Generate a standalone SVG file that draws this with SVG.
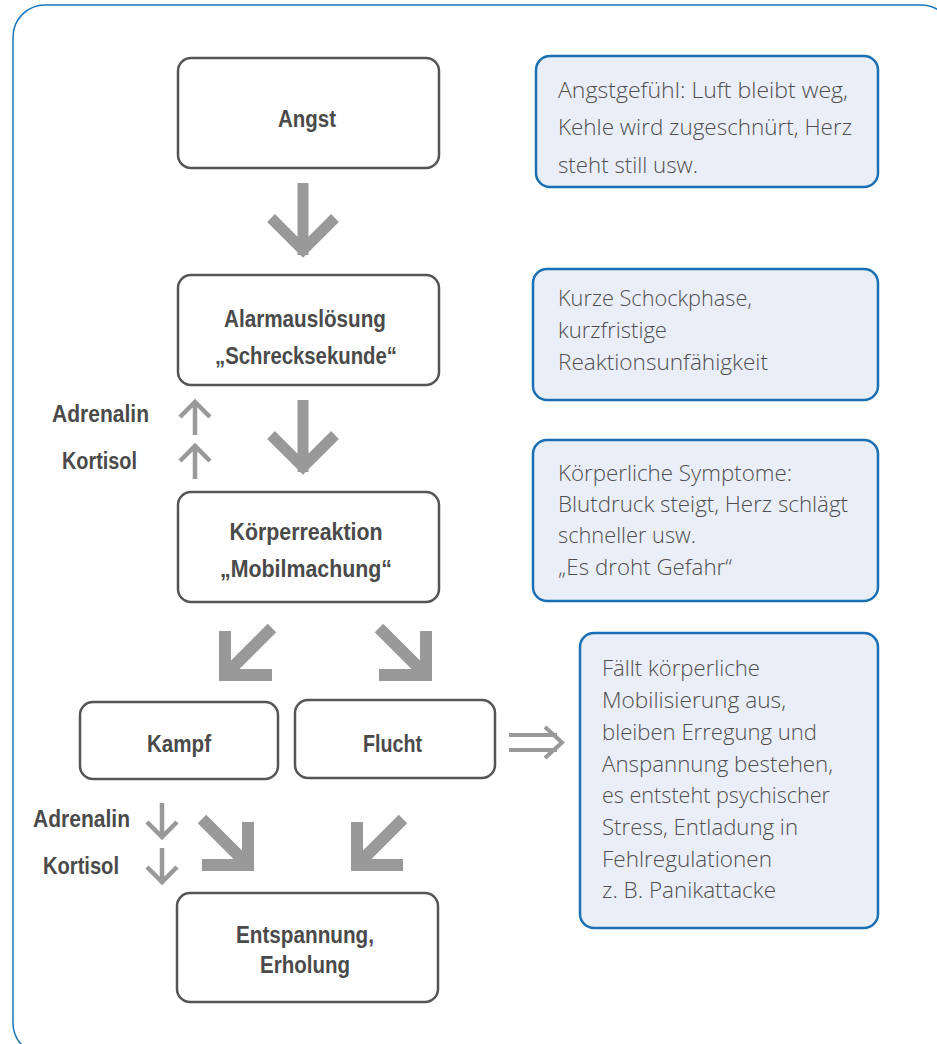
<svg xmlns="http://www.w3.org/2000/svg" width="937" height="1044" viewBox="0 0 937 1044">
<style>
.frame{fill:#ffffff;stroke:#1b75bc;stroke-width:1.5}
.node{fill:#ffffff;stroke:#555555;stroke-width:2.5}
.note{fill:#eaeef9;stroke:#1a6fb5;stroke-width:2.5}
.b{font-family:"Liberation Sans",Arial,sans-serif;font-weight:bold;font-size:23px;fill:#4a4a4a}
.t{font-family:"Open Sans","Liberation Sans",sans-serif;font-weight:300;font-size:22px;fill:#4f4f4f}
.big{fill:none;stroke:#999999;stroke-width:11;stroke-linejoin:miter;stroke-linecap:butt}
.diag{fill:none;stroke:#999999;stroke-width:12;stroke-linejoin:miter;stroke-linecap:butt}
.small{fill:none;stroke:#999999;stroke-width:4.5;stroke-linejoin:miter;stroke-linecap:butt}
.dbl{fill:none;stroke:#999999;stroke-width:4;stroke-linecap:butt}
</style>
<rect class="frame" x="13" y="5" width="940" height="1050" rx="32"/>

<g id="connectors">
  <path class="big" d="M303,183 V255 M271,218 L303,250 L335,218"/>
  <path class="big" d="M303,400 V472 M271,435 L303,467 L335,435"/>
  <path class="diag" d="M272,628 L225,675 M225,631 V675 H272"/>
  <path class="diag" d="M379,628 L426,675 M426,631 V675 H379"/>
  <path class="diag" d="M202,819 L248,865 M248,822 V865 H202"/>
  <path class="diag" d="M403,819 L357,865 M357,822 V865 H403"/>
  <path class="small" d="M195,435 V404 M180,417 L195,402 L210,417"/>
  <path class="small" d="M195,479 V448 M180,461 L195,446 L210,461"/>
  <path class="small" d="M162,803 V835 M147,822 L162,837 L177,822"/>
  <path class="small" d="M162,848 V880 M147,867 L162,882 L177,867"/>
  <path class="dbl" d="M509,735 H557 M509,750 H557 M545,727 L562,742.5 L545,758"/>
</g>

<g id="angst">
  <rect class="node" x="178" y="58" width="261" height="110" rx="13"/>
  <text class="b" x="307" y="127" text-anchor="middle" textLength="58" lengthAdjust="spacingAndGlyphs">Angst</text>
</g>
<g id="alarm">
  <rect class="node" x="178" y="275" width="261" height="110" rx="13"/>
  <text class="b" x="305" y="327" text-anchor="middle" textLength="162" lengthAdjust="spacingAndGlyphs">Alarmauslösung</text>
  <text class="b" x="306" y="364" text-anchor="middle" textLength="182" lengthAdjust="spacingAndGlyphs">„Schrecksekunde“</text>
</g>
<g id="koerper">
  <rect class="node" x="178" y="492" width="261" height="110" rx="13"/>
  <text class="b" x="306" y="540" text-anchor="middle" textLength="153" lengthAdjust="spacingAndGlyphs">Körperreaktion</text>
  <text class="b" x="306" y="577" text-anchor="middle" textLength="172" lengthAdjust="spacingAndGlyphs">„Mobilmachung“</text>
</g>
<g id="kampf">
  <rect class="node" x="80" y="702" width="198" height="77" rx="13"/>
  <text class="b" x="179" y="752" text-anchor="middle" textLength="64" lengthAdjust="spacingAndGlyphs">Kampf</text>
</g>
<g id="flucht">
  <rect class="node" x="295" y="700" width="200" height="78" rx="13"/>
  <text class="b" x="392.5" y="752" text-anchor="middle" textLength="59" lengthAdjust="spacingAndGlyphs">Flucht</text>
</g>
<g id="entspannung">
  <rect class="node" x="177" y="893" width="261" height="109" rx="13"/>
  <text class="b" x="305" y="943" text-anchor="middle" textLength="138" lengthAdjust="spacingAndGlyphs">Entspannung,</text>
  <text class="b" x="305" y="973" text-anchor="middle" textLength="90" lengthAdjust="spacingAndGlyphs">Erholung</text>
</g>

<g id="hormone-up">
  <text class="b" x="52" y="422" textLength="97" lengthAdjust="spacingAndGlyphs">Adrenalin</text>
  <text class="b" x="62" y="469" textLength="75" lengthAdjust="spacingAndGlyphs">Kortisol</text>
</g>
<g id="hormone-down">
  <text class="b" x="33" y="827" textLength="97" lengthAdjust="spacingAndGlyphs">Adrenalin</text>
  <text class="b" x="43" y="874" textLength="76" lengthAdjust="spacingAndGlyphs">Kortisol</text>
</g>

<g id="note1">
  <rect class="note" x="536" y="56" width="342" height="131" rx="14"/>
  <text class="t" x="558" y="98" textLength="290" lengthAdjust="spacingAndGlyphs">Angstgefühl: Luft bleibt weg,</text>
  <text class="t" x="558" y="135" textLength="294" lengthAdjust="spacingAndGlyphs">Kehle wird zugeschnürt, Herz</text>
  <text class="t" x="558" y="173" textLength="140" lengthAdjust="spacingAndGlyphs">steht still usw.</text>
</g>
<g id="note2">
  <rect class="note" x="533" y="269" width="345" height="131" rx="14"/>
  <text class="t" x="558" y="306" textLength="194" lengthAdjust="spacingAndGlyphs">Kurze Schockphase,</text>
  <text class="t" x="558" y="338" textLength="109" lengthAdjust="spacingAndGlyphs">kurzfristige</text>
  <text class="t" x="558" y="370" textLength="210" lengthAdjust="spacingAndGlyphs">Reaktionsunfähigkeit</text>
</g>
<g id="note3">
  <rect class="note" x="533" y="440" width="345" height="161" rx="14"/>
  <text class="t" x="558" y="481" textLength="234" lengthAdjust="spacingAndGlyphs">Körperliche Symptome:</text>
  <text class="t" x="558" y="512" textLength="290" lengthAdjust="spacingAndGlyphs">Blutdruck steigt, Herz schlägt</text>
  <text class="t" x="558" y="543" textLength="138" lengthAdjust="spacingAndGlyphs">schneller usw.</text>
  <text class="t" x="558" y="575" textLength="174" lengthAdjust="spacingAndGlyphs">„Es droht Gefahr“</text>
</g>
<g id="note4">
  <rect class="note" x="580" y="633" width="298" height="295" rx="14"/>
  <text class="t" x="602" y="676" textLength="158" lengthAdjust="spacingAndGlyphs">Fällt körperliche</text>
  <text class="t" x="602" y="708" textLength="184" lengthAdjust="spacingAndGlyphs">Mobilisierung aus,</text>
  <text class="t" x="602" y="740" textLength="215" lengthAdjust="spacingAndGlyphs">bleiben Erregung und</text>
  <text class="t" x="602" y="772" textLength="231" lengthAdjust="spacingAndGlyphs">Anspannung bestehen,</text>
  <text class="t" x="602" y="803" textLength="228" lengthAdjust="spacingAndGlyphs">es entsteht psychischer</text>
  <text class="t" x="602" y="835" textLength="196" lengthAdjust="spacingAndGlyphs">Stress, Entladung in</text>
  <text class="t" x="602" y="867" textLength="170" lengthAdjust="spacingAndGlyphs">Fehlregulationen</text>
  <text class="t" x="602" y="898" textLength="174" lengthAdjust="spacingAndGlyphs">z. B. Panikattacke</text>
</g>
</svg>
